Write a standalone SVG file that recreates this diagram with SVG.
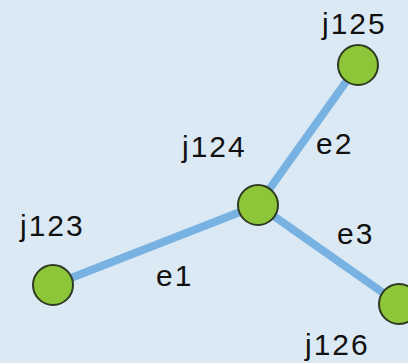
<svg xmlns="http://www.w3.org/2000/svg" width="408" height="363" viewBox="0 0 408 363">
  <style>
    .edge { stroke: #78b2e2; stroke-width: 8; stroke-linecap: butt; fill: none; }
    .node circle { fill: #8ec63a; stroke: #2e3a22; stroke-width: 2; }
    .lbl { font-family: "Liberation Sans", Arial, sans-serif; font-size: 30px; fill: #111; letter-spacing: 2px; }
  </style>
  <rect width="408" height="363" fill="#dbe9f4"/>
  <g id="edges">
    <line class="edge" x1="53" y1="285" x2="258" y2="205"/>
    <line class="edge" x1="258" y1="205" x2="358" y2="65"/>
    <line class="edge" x1="258" y1="205" x2="399" y2="304"/>
    <text class="lbl" x="156" y="286">e1</text>
    <text class="lbl" x="316" y="154">e2</text>
    <text class="lbl" x="337" y="244">e3</text>
  </g>
  <g id="j123" class="node">
    <circle cx="53" cy="285" r="20"/>
    <text class="lbl" x="20" y="236">j123</text>
  </g>
  <g id="j124" class="node">
    <circle cx="258" cy="205" r="20"/>
    <text class="lbl" x="182" y="157">j124</text>
  </g>
  <g id="j125" class="node">
    <circle cx="358" cy="65" r="20"/>
    <text class="lbl" x="322" y="34">j125</text>
  </g>
  <g id="j126" class="node">
    <circle cx="399" cy="304" r="20"/>
    <text class="lbl" x="305" y="355">j126</text>
  </g>
</svg>
